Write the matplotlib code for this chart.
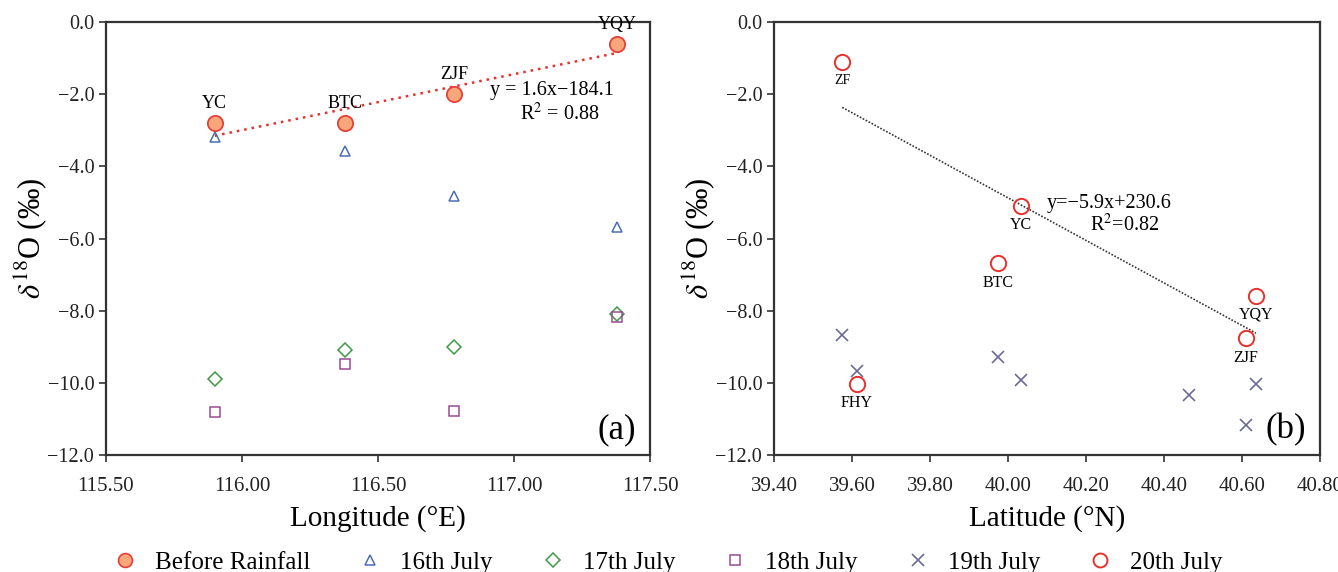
import numpy as np
import matplotlib
matplotlib.use("Agg")
import matplotlib.pyplot as plt
from matplotlib.lines import Line2D

plt.rcParams['font.family'] = ['Liberation Serif', 'DejaVu Serif']
plt.rcParams['mathtext.fontset'] = 'stix'
plt.rcParams['axes.unicode_minus'] = True

# ---------------- data: panel (a) ----------------
sites_a = ["YC", "BTC", "ZJF", "YQY"]
lon = [115.90, 116.38, 116.78, 117.38]
before_rain = [-2.8, -2.8, -2.0, -0.6]
jul16 = [-3.2, -3.57, -4.82, -5.67]
jul17 = [-9.88, -9.08, -9.0, -8.1]
jul18 = [-10.8, -9.49, -10.77, -8.17]

# ---------------- data: panel (b) ----------------
sites_b = ["ZF", "YC", "BTC", "YQY", "ZJF", "FHY"]
lat20 = [39.575, 40.034, 39.974, 40.636, 40.61, 39.612]
jul20 = [-1.12, -5.09, -6.69, -7.58, -8.77, -10.03]
fit_sites_b = ["ZF", "YC", "BTC", "YQY", "ZJF"]
lat19 = [39.575, 39.613, 39.974, 40.034, 40.463, 40.636, 40.61]
jul19 = [-8.67, -9.68, -9.29, -9.91, -10.34, -10.02, -11.17]

yticks = [0.0, -2.0, -4.0, -6.0, -8.0, -10.0, -12.0]
xticks_a = [115.50, 116.00, 116.50, 117.00, 117.50]
xticks_b = [39.40, 39.60, 39.80, 40.00, 40.20, 40.40, 40.60, 40.80]

c_before_face = "#F7A77A"
c_before_edge = "#E5403A"
c_16 = "#4B6DB3"
c_17 = "#3F9A45"
c_18 = "#9A4A92"
c_19 = "#6B6B95"
c_20 = "#E8302C"

fig = plt.figure(figsize=(13.38, 5.72), dpi=100)
axa = fig.add_axes([0.0792, 0.2045, 0.4066, 0.757])
axb = fig.add_axes([0.5785, 0.2045, 0.4080, 0.757])


def style(ax, xticks, xlim):
    ax.set_ylim(-12, 0)
    ax.set_xlim(*xlim)
    ax.set_yticks(yticks)
    ax.set_yticklabels([f"{v:.1f}".replace("-", "\u2212") for v in yticks])
    ax.set_xticks(xticks)
    ax.set_xticklabels([f"{v:.2f}" for v in xticks])
    for s in ax.spines.values():
        s.set_color("#333333")
        s.set_linewidth(1.6)
    ax.tick_params(axis='both', direction='out', length=5, width=1.2,
                   colors="#333333", labelcolor="#222222", labelsize=14.5)
    ax.tick_params(axis='x', pad=11, labelsize=15)
    ax.set_ylabel(r"$\delta^{18}$O (‰)", fontsize=22, labelpad=-1)


# ---- panel a ----
style(axa, xticks_a, (115.5, 117.5))
k, b = np.polyfit(lon, before_rain, 1)
xs = np.array([min(lon), max(lon)])
axa.plot(xs, k * xs + b, linestyle=(0, (1, 2)), color="#E8302C", lw=1.8, zorder=2)
axa.plot(lon, jul16, linestyle='none', marker='^', ms=7, mfc='none', mec=c_16, mew=1.1)
axa.plot(lon, jul17, linestyle='none', marker='D', ms=7, mfc='none', mec=c_17, mew=1.1)
axa.plot(lon, jul18, linestyle='none', marker='s', ms=7.5, mfc='none', mec=c_18, mew=1.1)
axa.plot(lon, before_rain, linestyle='none', marker='o', ms=11, mfc=c_before_face,
         mec=c_before_edge, mew=1.3, zorder=4)
for s, x, y in zip(sites_a, lon, before_rain):
    axa.annotate(s, (x, y), xytext=(0, 8), textcoords='offset points',
                 ha='center', va='bottom', fontsize=13)
axa.text(117.14, -1.9, "y = 1.6x\u2212184.1", ha='center', va='center', fontsize=14.5)
axa.text(117.17, -2.55, r"R$^2$ = 0.88", ha='center', va='center', fontsize=14.5)
axa.text(0.975, 0.02, "(a)", transform=axa.transAxes, ha='right', va='bottom', fontsize=25)
axa.set_xlabel("Longitude (°E)", fontsize=21, labelpad=6)

# ---- panel b ----
style(axb, xticks_b, (39.4, 40.8))
fx = [lat20[sites_b.index(s)] for s in fit_sites_b]
fy = [jul20[sites_b.index(s)] for s in fit_sites_b]
k2, b2 = np.polyfit(fx, fy, 1)
xs2 = np.array([min(fx), max(fx)])
axb.plot(xs2, k2 * xs2 + b2, linestyle=(0, (1, 1)), color="#333333", lw=1.2, zorder=2)
axb.plot(lat19, jul19, linestyle='none', marker='x', ms=9, mec=c_19, mew=1.2)
axb.plot(lat20, jul20, linestyle='none', marker='o', ms=11, mfc='none', mec=c_20, mew=1.4)
for s, x, y in zip(sites_b, lat20, jul20):
    axb.annotate(s, (x, y), xytext=(0, -8), textcoords='offset points',
                 ha='center', va='top', fontsize=11.5 if s != "ZF" else 10)
axb.text(40.26, -5.02, "y=\u22125.9x+230.6", ha='center', va='center', fontsize=14.5)
axb.text(40.30, -5.63, r"R$^2$=0.82", ha='center', va='center', fontsize=14.5)
axb.text(0.975, 0.02, "(b)", transform=axb.transAxes, ha='right', va='bottom', fontsize=25)
axb.set_xlabel("Latitude (°N)", fontsize=21, labelpad=6)

# ---- legend ----
handles = [
    Line2D([], [], linestyle='none', marker='o', ms=10, mfc=c_before_face, mec=c_before_edge, mew=1.2),
    Line2D([], [], linestyle='none', marker='^', ms=7, mfc='none', mec=c_16, mew=1.1),
    Line2D([], [], linestyle='none', marker='D', ms=7, mfc='none', mec=c_17, mew=1.1),
    Line2D([], [], linestyle='none', marker='s', ms=7.5, mfc='none', mec=c_18, mew=1.1),
    Line2D([], [], linestyle='none', marker='x', ms=9, mec=c_19, mew=1.2),
    Line2D([], [], linestyle='none', marker='o', ms=10, mfc='none', mec=c_20, mew=1.4),
]
labels = ["Before Rainfall", "16th July", "17th July", "18th July", "19th July", "20th July"]
fig.legend(handles, labels, loc='lower center', bbox_to_anchor=(0.499, -0.043), ncol=6,
           frameon=False, fontsize=18, columnspacing=1.9, handletextpad=0.7, handlelength=1.0)

fig.savefig("out.png", dpi=100)
